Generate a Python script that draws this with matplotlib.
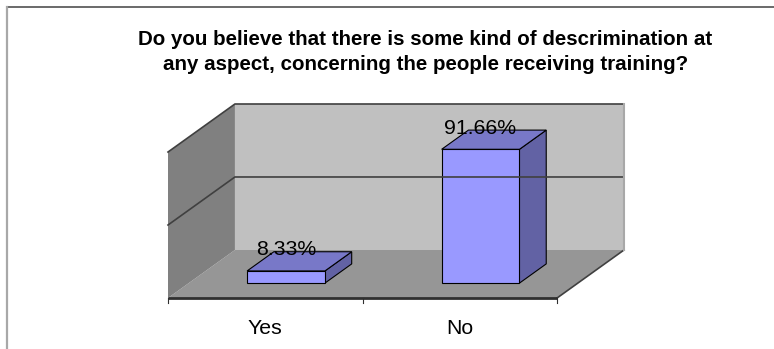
import numpy as np
import matplotlib.pyplot as plt
from matplotlib.patches import Polygon
from matplotlib.lines import Line2D

# Data
categories = ['Yes', 'No']
values = [8.33, 91.66]          # percent
value_labels = ['8.33%', '91.66%']
gridlines = [50, 100]
title_lines = ["Do you believe that there is some kind of descrimination at",
               "any aspect, concerning the people receiving training?"]

# Oblique "3D" look (Excel style): depth offsets in data units
DX = 0.344      # category units
DY = 32.9       # percent units
VMAX = 100
BAR_W = 0.40
Z0, Z1 = 0.31, 0.71

plt.rcParams['font.family'] = ['Liberation Sans', 'DejaVu Sans']

W, H = 774, 349
fig = plt.figure(figsize=(W / 100, H / 100), dpi=100)
ax = fig.add_axes([168 / W, 51 / H, 456 / W, 194 / H])
ax.set_xlim(0, len(categories) + DX)
ax.set_ylim(0, VMAX + DY)
ax.axis('off')


def proj(x, y, z):
    return (x + z * DX, y + z * DY)


def face(pts, color, **kw):
    ax.add_patch(Polygon([proj(*p) for p in pts], closed=True,
                         facecolor=color, clip_on=False, **kw))


n = len(categories)

# walls and floor
face([(0, 0, 0), (n, 0, 0), (n, 0, 1), (0, 0, 1)], '#969696', edgecolor='none')
face([(0, 0, 0), (0, VMAX, 0), (0, VMAX, 1), (0, 0, 1)], '#808080', edgecolor='none')
face([(0, 0, 1), (n, 0, 1), (n, VMAX, 1), (0, VMAX, 1)], '#c0c0c0', edgecolor='none')

# gridlines along side and back walls
for g in gridlines:
    pts = [proj(0, g, 0), proj(0, g, 1), proj(n, g, 1)]
    ax.plot([p[0] for p in pts], [p[1] for p in pts], color='#404040',
            lw=1.2, clip_on=False)

# floor right edge
p1, p2 = proj(n, 0, 0), proj(n, 0, 1)
ax.plot([p1[0], p2[0]], [p1[1], p2[1]], color='#404040', lw=1.2, clip_on=False)
# back wall right edge
p1, p2 = proj(n, 0, 1), proj(n, VMAX, 1)
ax.plot([p1[0], p2[0]], [p1[1], p2[1]], color='#a8a8a8', lw=1.5, clip_on=False)

# bars
for i, v in enumerate(values):
    x0 = i + 0.5 - BAR_W / 2
    x1 = i + 0.5 + BAR_W / 2
    kw = dict(edgecolor='black', lw=0.8)
    face([(x1, 0, Z0), (x1, 0, Z1), (x1, v, Z1), (x1, v, Z0)], '#6262a4', **kw)
    face([(x0, v, Z0), (x1, v, Z0), (x1, v, Z1), (x0, v, Z1)], '#7878c8', **kw)
    face([(x0, 0, Z0), (x1, 0, Z0), (x1, v, Z0), (x0, v, Z0)], '#9999ff', **kw)
    tx, _ = proj(i + 0.5, v, Z0)
    _, ty = proj(i + 0.5, v, Z1)
    ax.annotate(value_labels[i], (tx, ty), xytext=(0, -2.5),
                textcoords='offset points', ha='center', va='baseline',
                fontsize=15.3, color='black', annotation_clip=False)

# category axis
ax.plot([0, n], [0, 0], color='#303030', lw=2, clip_on=False,
        solid_capstyle='butt')
tick_len = 5 / 1.46
for k in range(n + 1):
    ax.plot([k, k], [0, -tick_len], color='#303030', lw=0.8, clip_on=False)
for i, c in enumerate(categories):
    ax.annotate(c, (i + 0.5, 0), xytext=(0, -26), textcoords='offset points',
                ha='center', va='baseline', fontsize=15.3, annotation_clip=False)

# title (two centred lines)
for k, line in enumerate(title_lines):
    fig.text(425.5 / W, 1 - (45 + 25 * k) / H, line, ha='center', va='baseline',
             fontsize=14.8, fontweight='bold')

# chart frame (top and left edges visible)
fig.add_artist(Line2D([7 / W, 1], [1 - 7 / H, 1 - 7 / H], color='#505050', lw=1.2))
fig.add_artist(Line2D([7 / W, 7 / W], [0, 1 - 7 / H], color='#a8a8a8', lw=1.6))

fig.savefig('out.png', dpi=100)
